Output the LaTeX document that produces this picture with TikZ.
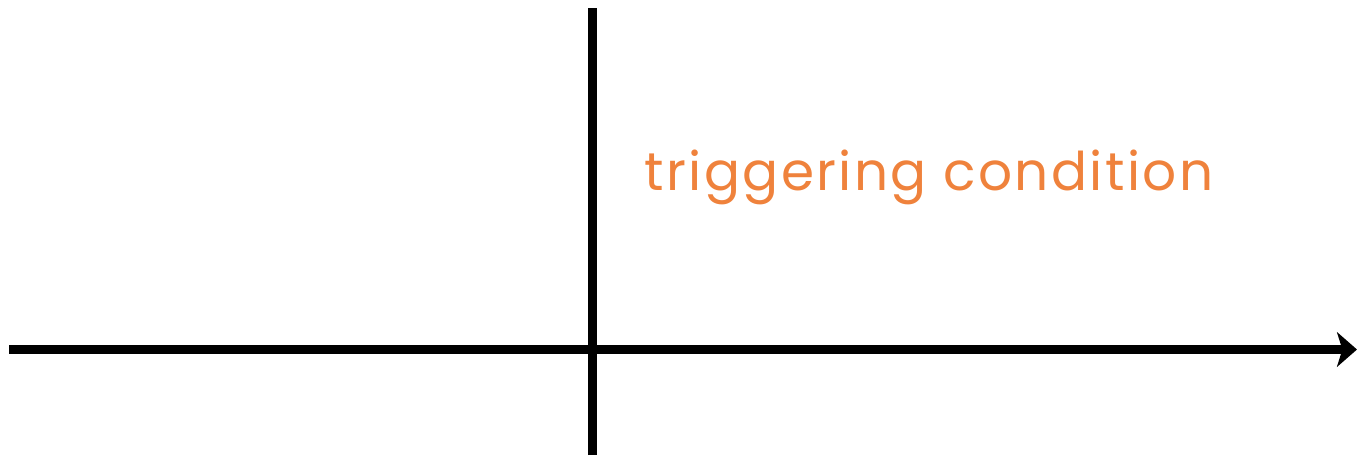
\documentclass[tikz,border=0pt]{standalone}
\usepackage{fontspec}
\setmainfont{Poppins}
\usetikzlibrary{arrows.meta}
\definecolor{labelorange}{RGB}{239,130,60}
\tikzset{
  axisline/.style={line width=6.75pt},
  condlabel/.style={text=labelorange, font=\fontsize{40}{48}\selectfont\addfontfeatures{LetterSpace=4.5}, inner sep=0pt}
}
\begin{document}
\begin{tikzpicture}[x=0.75pt,y=0.75pt]
    % frame of the picture
    \useasboundingbox (0,0) rectangle (1357,455);

    % ends of the two axes
    \coordinate (hstart) at (9,105.5);
    \coordinate (hend) at (1357,105.5);
    \coordinate (vtop) at (592.5,447);
    \coordinate (vbottom) at (592.5,0);

    % axes
    \draw[axisline] (vbottom) -- (vtop);
    \draw[axisline, -{Stealth[length=15pt,width=26pt,inset=4pt]}] (hstart) -- (hend);

    % label
    \node[condlabel, anchor=base] (cond) at (929,265) {triggering condition};
\end{tikzpicture}
\end{document}
